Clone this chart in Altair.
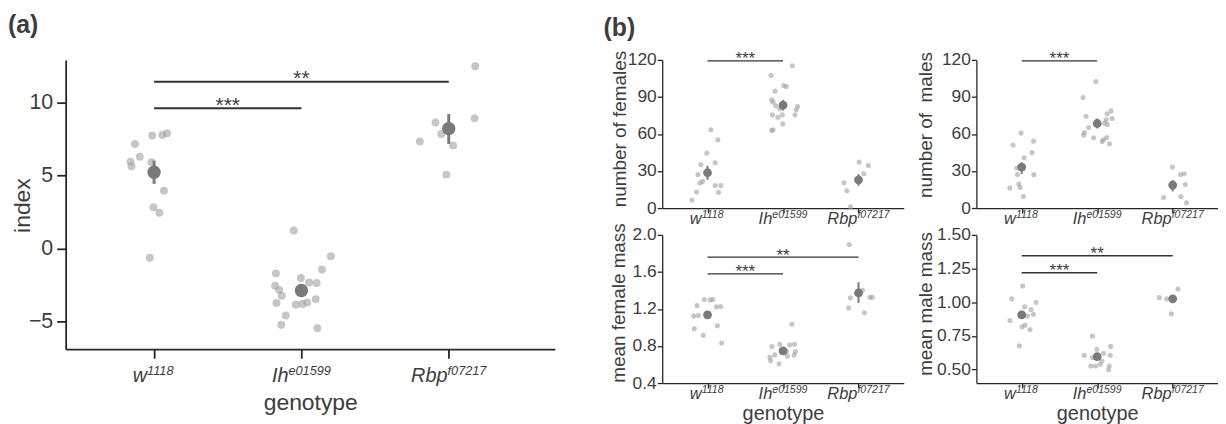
import altair as alt
import pandas as pd

FONT = "Liberation Sans"
TXT = "#3d3d3d"
AXC = "#262626"
PTC = "#a0a0a0"
MNC = "#7a7a7a"
SIGC = "#333333"

geno_base = ["w", "Ih", "Rbp"]
geno_sup = ["1118", "e01599", "f07217"]
geno_pos = [0, 1, 2]

# ---------------- (a) index ----------------
idx_w_dx = [-0.13, -0.013, 0.056, 0.088, -0.097, -0.16, -0.153, -0.018, 0.067, -0.004, 0.036, -0.029]
idx_w_y = [7.15, 7.72, 7.76, 7.88, 6.28, 5.94, 5.62, 5.89, 3.95, 2.81, 2.44, -0.64]
idx_ih_dx = [-0.052, 0.20, 0.14, -0.173, -0.004, 0.052, 0.103, -0.178, -0.151, -0.133,
             0.097, -0.169, -0.038, 0.040, 0.007, -0.106, -0.137, 0.108]
idx_ih_y = [1.23, -0.53, -1.44, -1.71, -2.03, -2.33, -2.37, -2.56, -2.85, -3.24,
            -3.47, -3.74, -3.86, -3.70, -3.81, -4.59, -5.23, -5.46]
idx_rbp_dx = [0.18, -0.09, 0.175, -0.196, -0.05, 0.03, -0.016]
idx_rbp_y = [12.47, 8.61, 8.90, 7.31, 7.83, 7.05, 5.05]
idx_mean = [5.21, -2.88, 8.20]
idx_lo = [4.42, -3.30, 7.15]
idx_hi = [6.00, -2.46, 9.20]
idx_sig_from = [0, 0]
idx_sig_to = [1, 2]
idx_sig_y = [9.59, 11.40]
idx_sig_txt = ["***", "**"]

# ---------------- (b) number of females ----------------
fem_w_dx = [0.044, 0.136, -0.009, -0.088, 0.101, -0.127, -0.066, -0.101, 0.101, 0.176, -0.145, 0.145, -0.207]
fem_w_y = [63.4, 55.3, 44.5, 35.3, 36.7, 27.2, 21.6, 20.2, 18.3, 18.3, 12.9, 12.7, 6.5]
fem_ih_dx = [0.123, -0.158, 0.009, 0.044, -0.105, -0.149, -0.132, -0.097, 0.193, 0.176,
             -0.044, -0.141, -0.009, -0.066, 0.158, -0.004, -0.149, -0.132]
fem_ih_y = [115.2, 107.3, 99.2, 98.4, 94.7, 87.6, 85.8, 82.8, 82.3, 79.6,
            80.4, 75.5, 75.5, 73.6, 75.5, 68.2, 62.8, 63.4]
fem_rbp_dx = [0.009, 0.132, 0.07, -0.193, -0.154, -0.105]
fem_rbp_y = [37.2, 34.5, 27.8, 20.5, 14.0, 1.1]
fem_mean = [28.6, 83.3, 22.9]
fem_lo = [22.9, 79.0, 18.0]
fem_hi = [34.2, 87.5, 27.5]
fem_sig_from = [0]
fem_sig_to = [1]
fem_sig_y = [119.2]
fem_sig_txt = ["***"]

# ---------------- (b) number of males ----------------
mal_w_dx = [-0.009, -0.114, 0.157, 0.135, 0.031, -0.066, -0.057, 0.162, -0.039, -0.022, -0.157, 0.022]
mal_w_y = [60.7, 51.0, 54.2, 45.0, 40.7, 32.4, 27.2, 27.0, 19.4, 16.7, 16.2, 9.4]
mal_ih_dx = [-0.017, -0.188, -0.148, -0.114, -0.170, -0.179, -0.048, 0.183, 0.131, 0.197,
             0.118, 0.096, 0.135, 0.127, 0.083, 0.066, 0.162]
mal_ih_y = [102.5, 89.5, 74.4, 65.3, 61.2, 59.1, 56.9, 78.7, 76.3, 72.5,
            71.5, 68.8, 67.7, 57.2, 55.3, 53.9, 52.0]
mal_rbp_dx = [-0.004, 0.105, 0.153, 0.166, -0.122, 0.109, 0.183]
mal_rbp_y = [33.2, 27.2, 27.8, 19.1, 8.6, 9.4, 4.3]
mal_mean = [33.2, 68.5, 18.6]
mal_lo = [27.5, 64.5, 13.5]
mal_hi = [37.0, 72.5, 22.6]
mal_sig_from = [0]
mal_sig_to = [1]
mal_sig_y = [119.2]
mal_sig_txt = ["***"]

# ---------------- (b) mean female mass ----------------
fm_w_dx = [-0.043, 0.035, 0.07, -0.139, 0.117, 0.174, -0.183, -0.122, 0.13, -0.174, -0.057, 0.187]
fm_w_y = [1.302, 1.298, 1.302, 1.238, 1.223, 1.227, 1.123, 1.130, 1.019, 0.987, 0.915, 0.833]
fm_ih_dx = [0.117, -0.148, -0.043, 0.087, 0.152, -0.109, -0.174, -0.165, 0.165, 0.148, 0.057, -0.052, 0.043]
fm_ih_y = [1.034, 0.794, 0.819, 0.812, 0.819, 0.704, 0.679, 0.640, 0.740, 0.704, 0.693, 0.608, 0.747]
fm_rbp_dx = [-0.122, 0.052, -0.109, 0.152, 0.183, -0.13, 0.078]
fm_rbp_y = [1.896, 1.402, 1.320, 1.327, 1.327, 1.212, 1.159]
fm_mean = [1.137, 0.747, 1.374]
fm_lo = [1.100, 0.720, 1.266]
fm_hi = [1.175, 0.775, 1.488]
fm_sig_from = [0, 0]
fm_sig_to = [1, 2]
fm_sig_y = [1.578, 1.760]
fm_sig_txt = ["***", "**"]

# ---------------- (b) mean male mass ----------------
mm_w_dx = [0.013, -0.133, 0.191, 0.04, 0.124, 0.155, -0.155, 0.075, 0.044, 0.004, 0.111, -0.031]
mm_w_y = [1.121, 1.025, 1.0, 0.966, 0.946, 0.911, 0.865, 0.897, 0.830, 0.818, 0.798, 0.677]
mm_ih_dx = [-0.062, -0.173, 0.177, -0.004, 0.084, 0.173, -0.062, -0.084, -0.022, 0.16, 0.151, 0.062, 0.04]
mm_ih_y = [0.749, 0.606, 0.672, 0.650, 0.621, 0.606, 0.589, 0.527, 0.527, 0.527, 0.498, 0.564, 0.539]
mm_rbp_dx = [0.071, -0.177, -0.08, -0.018, -0.018]
mm_rbp_y = [1.098, 1.034, 1.025, 1.025, 0.914]
mm_mean = [0.906, 0.596, 1.025]
mm_lo = [0.876, 0.571, 1.000]
mm_hi = [0.936, 0.621, 1.050]
mm_sig_from = [0, 0]
mm_sig_to = [1, 2]
mm_sig_y = [1.219, 1.345]
mm_sig_txt = ["***", "**"]

# Arial / Liberation Sans advance widths (em) used to centre composite labels
ADV = {"w": 0.722, "I": 0.278, "h": 0.556, "R": 0.722, "b": 0.556, "p": 0.556,
       "e": 0.556, "f": 0.278}


def text_w(s, fs):
    return sum(ADV.get(c, 0.556) for c in s) * fs


def panel(dxs, ys, mean, lo, hi, sfrom, sto, sy, stxt, st):
    ppu = st["w"] / (st["xdom"][1] - st["xdom"][0])
    pts = pd.DataFrame(
        [{"x": geno_pos[g] + d, "y": v} for g in range(3) for d, v in zip(dxs[g], ys[g])]
    )
    means = pd.DataFrame({"x": geno_pos, "m": mean, "lo": lo, "hi": hi})
    sig = pd.DataFrame({
        "x1": [geno_pos[i] for i in sfrom],
        "x2": [geno_pos[i] for i in sto],
        "xm": [(geno_pos[a] + geno_pos[b]) / 2 for a, b in zip(sfrom, sto)],
        "y": sy, "t": stxt,
    })
    junction = []
    for p, b, s in zip(geno_pos, geno_base, geno_sup):
        bw = text_w(b, st["bfs"])
        sw = text_w(s, st["sfs"])
        junction.append(p + (bw - (bw + sw) / 2) / ppu)
    labs = pd.DataFrame({"j": junction, "b": geno_base, "s": geno_sup})

    xaxis = alt.Axis(values=[0, 1, 2], labels=False, grid=False,
                     tickSize=st["tick"], tickColor=AXC, tickWidth=st["aw"],
                     domainColor=AXC, domainWidth=st["aw"],
                     title=st["xtitle"], titleFontSize=st["xtfs"], titleColor=TXT,
                     titleFontWeight="normal", titleY=st["xty"], titleBaseline="alphabetic")
    yaxis = alt.Axis(values=st["yticks"], format=st["yfmt"], grid=False,
                     labelFontSize=st["lfs"], labelColor=TXT, labelPadding=st["lpad"],
                     tickSize=st["tick"], tickColor=AXC, tickWidth=st["aw"],
                     domainColor=AXC, domainWidth=st["aw"],
                     title=st["ytitle"], titleFontSize=st["ytfs"], titleColor=TXT,
                     titleFontWeight="normal", titleAngle=270, titleAlign="center",
                     titleBaseline="alphabetic", titleX=st["ytx"], titleY=st["yty"])
    xs = alt.Scale(domain=st["xdom"], nice=False, zero=False)
    ysc = alt.Scale(domain=st["ydom"], nice=False, zero=False)

    def X(f):
        return alt.X(f, type="quantitative", scale=xs, axis=xaxis)

    def Y(f):
        return alt.Y(f, type="quantitative", scale=ysc, axis=yaxis)

    l_pts = alt.Chart(pts).mark_circle(size=st["ps"], color=PTC, opacity=0.6).encode(
        x=X("x"), y=Y("y"))
    l_err = alt.Chart(means).mark_rule(strokeWidth=st["ew"], color=MNC).encode(
        x=X("x"), y=Y("lo"), y2="hi")
    l_mean = alt.Chart(means).mark_circle(size=st["ms"], color=MNC, opacity=1).encode(
        x=X("x"), y=Y("m"))
    l_sig = alt.Chart(sig).mark_rule(strokeWidth=st["sw"], color=SIGC).encode(
        x=X("x1"), x2="x2", y=Y("y"))
    l_star = alt.Chart(sig).mark_text(fontSize=st["stfs"], color=TXT, baseline="alphabetic",
                                      align="center", dy=st["stdy"]).encode(
        x=X("xm"), y=Y("y"), text="t")
    l_base = alt.Chart(labs).mark_text(fontSize=st["bfs"], fontStyle="italic", color=TXT,
                                       align="right", baseline="alphabetic").encode(
        x=X("j"), y=alt.value(st["h"] + st["loff"]), text="b")
    l_sup = alt.Chart(labs).mark_text(fontSize=st["sfs"], fontStyle="italic", color=TXT,
                                      align="left", baseline="alphabetic", dy=st["sdy"]).encode(
        x=X("j"), y=alt.value(st["h"] + st["loff"]), text="s")
    return alt.layer(l_pts, l_err, l_mean, l_sig, l_star, l_base, l_sup).properties(
        width=st["w"], height=st["h"])


style_a = dict(w=492, h=291, xdom=[-0.6, 2.72], ydom=[-6.9, 12.9], yticks=[-5, 0, 5, 10],
               yfmt="d", ytitle="index", xtitle="genotype", lfs=21.5, lpad=4, tick=9, aw=1.8,
               xtfs=23, xty=61, ytfs=23, ytx=-36.5, yty=146, ps=64, ms=180, ew=3, sw=2,
               stfs=21, stdy=3.5, bfs=20, sfs=12.8, loff=33, sdy=-7)

base_b = dict(w=243, h=149, xdom=[-0.6, 2.6], lfs=17.5, lpad=1, tick=5, aw=1.3,
              xtfs=20, xty=37, ytfs=19, ps=26, ms=78, ew=2, sw=1.3,
              stfs=17, stdy=3.5, bfs=16.5, sfs=10.6, loff=16, sdy=-5.5)

style_fem = dict(base_b, ydom=[0, 120], yticks=[0, 30, 60, 90, 120], yfmt="d",
                 ytitle="number of females", xtitle=None, ytx=-37, yty=69)
style_mal = dict(base_b, ydom=[0, 120], yticks=[0, 30, 60, 90, 120], yfmt="d",
                 ytitle="number of\u00a0 males", xtitle=None, ytx=-45, yty=65)
style_fm = dict(base_b, ydom=[0.4, 2.0], yticks=[0.4, 0.8, 1.2, 1.6, 2.0], yfmt=".1f",
                ytitle="mean female mass", xtitle="genotype", ytx=-38, yty=68)
style_mm = dict(base_b, ydom=[0.4, 1.5], yticks=[0.5, 0.75, 1.0, 1.25, 1.5], yfmt=".2f",
                ytitle="mean male mass", xtitle="genotype", ytx=-45, yty=69)

A = panel([idx_w_dx, idx_ih_dx, idx_rbp_dx], [idx_w_y, idx_ih_y, idx_rbp_y],
          idx_mean, idx_lo, idx_hi, idx_sig_from, idx_sig_to, idx_sig_y, idx_sig_txt, style_a)
A = A.properties(title=alt.TitleParams("(a)", anchor="start", frame="group", dx=-58,
                                       fontSize=25, fontWeight="bold", color=TXT,
                                       baseline="alphabetic", offset=2))
B1 = panel([fem_w_dx, fem_ih_dx, fem_rbp_dx], [fem_w_y, fem_ih_y, fem_rbp_y],
           fem_mean, fem_lo, fem_hi, fem_sig_from, fem_sig_to, fem_sig_y, fem_sig_txt, style_fem)
B2 = panel([mal_w_dx, mal_ih_dx, mal_rbp_dx], [mal_w_y, mal_ih_y, mal_rbp_y],
           mal_mean, mal_lo, mal_hi, mal_sig_from, mal_sig_to, mal_sig_y, mal_sig_txt, style_mal)
B3 = panel([fm_w_dx, fm_ih_dx, fm_rbp_dx], [fm_w_y, fm_ih_y, fm_rbp_y],
           fm_mean, fm_lo, fm_hi, fm_sig_from, fm_sig_to, fm_sig_y, fm_sig_txt, style_fm)
B4 = panel([mm_w_dx, mm_ih_dx, mm_rbp_dx], [mm_w_y, mm_ih_y, mm_rbp_y],
           mm_mean, mm_lo, mm_hi, mm_sig_from, mm_sig_to, mm_sig_y, mm_sig_txt, style_mm)

# nested concat groups count as zero-sized in a flush layout, so the row spacing
# includes the top row's plot height (149 + 27)
H1 = alt.hconcat(B1, B2, spacing=73, bounds="flush")
H2 = alt.hconcat(B3, B4, spacing=73, bounds="flush")
V = alt.vconcat(H1, H2, spacing=176, bounds="flush",
                title=alt.TitleParams("(b)", anchor="start", frame="group", dx=-59,
                                      fontSize=25, fontWeight="bold", color=TXT,
                                      baseline="alphabetic", offset=-11))

chart = alt.hconcat(A, V, spacing=108, bounds="flush",
                    padding={"left": 0, "top": 4, "right": 0, "bottom": 0}).configure(
    font=FONT).configure_view(stroke=None)

chart.save("out.html", embed_options={"renderer": "svg", "actions": False})
